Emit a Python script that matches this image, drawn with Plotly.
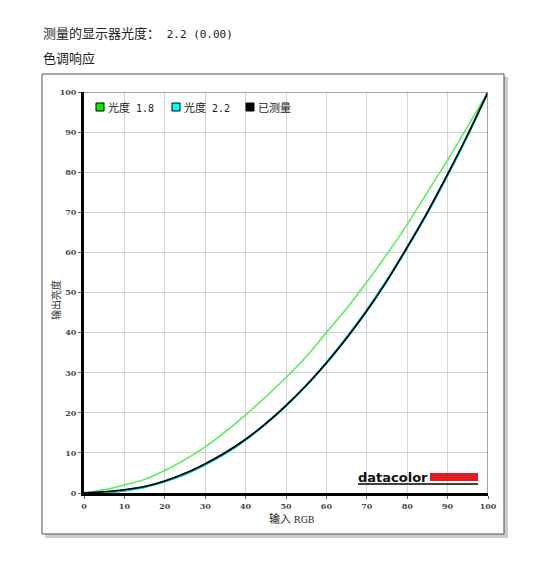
import plotly.graph_objects as go

x_rgb = [0, 5, 10, 15, 20, 25, 30, 35, 40, 45, 50, 55, 60, 65, 70, 75, 80, 85, 90, 95, 100]
gamma18 = [0, 0.8, 2.0, 3.4, 5.6, 8.3, 11.5, 15.3, 19.5, 24.0, 28.8, 34.0, 40.0, 46.0, 52.6, 59.6, 67.0, 75.0, 83.0, 91.5, 100]
gamma22 = [0, 0.14, 0.63, 1.5, 2.9, 4.7, 7.1, 9.9, 13.3, 17.3, 21.8, 26.8, 32.5, 38.8, 45.6, 53.1, 61.2, 69.9, 79.3, 89.3, 100]
measured = [0, 0.3, 0.8, 1.6, 3.0, 4.9, 7.3, 10.1, 13.4, 17.3, 21.8, 26.8, 32.4, 38.6, 45.4, 52.9, 61.3, 70.0, 79.5, 89.4, 100]
series_names = ["光度", "光度", "已测量"]
series_suffix = [" 1.8", " 2.2", ""]
tick_vals = list(range(0, 101, 10))
tick_text = [str(v) for v in tick_vals]

OFF = 8  # default page body margin
W, H = 548 - OFF, 567 - OFF
L, R, T, B = 84 - OFF, 488 - OFF, 92 - OFF, 493 - OFF

fig = go.Figure()
fig.add_trace(go.Scatter(x=x_rgb, y=gamma18, mode="lines", line=dict(color="#55ee55", width=1.5, shape="spline", smoothing=0.8), showlegend=False))
fig.add_trace(go.Scatter(x=x_rgb, y=gamma22, mode="lines", line=dict(color="#00c0c0", width=2.4, shape="spline", smoothing=0.8), showlegend=False))
fig.add_trace(go.Scatter(x=x_rgb, y=measured, mode="lines", line=dict(color="#000000", width=1.6, shape="spline", smoothing=0.8), showlegend=False))


def px(X):
    return (X - OFF - L) / (R - L)


def py(Y):
    return (B - (Y - OFF)) / (B - T)


shapes = [
    dict(type="rect", xref="paper", yref="paper", x0=px(45), x1=px(508), y0=py(538), y1=py(77),
         line=dict(width=0), fillcolor="rgba(110,110,110,0.35)", layer="below"),
    dict(type="rect", xref="paper", yref="paper", x0=px(42), x1=px(504), y0=py(534), y1=py(74),
         line=dict(color="#505050", width=1), fillcolor="white", layer="below"),
    dict(type="rect", xref="paper", yref="paper", x0=px(430), x1=px(478), y0=py(481), y1=py(473),
         line=dict(width=0), fillcolor="#e31b23"),
    dict(type="line", xref="paper", yref="paper", x0=px(358), x1=px(478), y0=py(484), y1=py(484),
         line=dict(color="#000000", width=1.5)),
    dict(type="line", xref="x", yref="y", x0=0, x1=100, y0=100, y1=100,
         line=dict(color="#888888", width=1.5)),
    dict(type="line", xref="x", yref="y", x0=100, x1=100, y0=0, y1=100,
         line=dict(color="#888888", width=1.5)),
]

legend_colors = ["#00ee00", "#00ffff", "#000000"]
legend_x = [100, 176, 250]
for xc, col in zip(legend_x, legend_colors):
    shapes.append(dict(type="rect", xref="paper", yref="paper", x0=px(xc - 4), x1=px(xc + 4),
                       y0=py(111), y1=py(103), line=dict(color="#000000", width=1), fillcolor=col))

CJK = "Noto Sans CJK SC"
MONO = "DejaVu Sans Mono"
annotations = [
    dict(text="测量的显示器光度：<span style='font-family:%s;font-size:11px'> 2.2 (0.00)</span>" % MONO,
         xref="paper", yref="paper", x=px(41), y=py(33),
         xanchor="left", yanchor="middle", showarrow=False,
         font=dict(family=CJK, size=13, color="#222222")),
    dict(text="色调响应", xref="paper", yref="paper", x=px(41), y=py(57),
         xanchor="left", yanchor="middle", showarrow=False,
         font=dict(family=CJK, size=13, color="#222222")),
    dict(text="<b>datacolor</b>", xref="paper", yref="paper", x=px(356), y=py(477),
         xanchor="left", yanchor="middle", showarrow=False,
         font=dict(family="DejaVu Sans", size=13, color="#111111")),
    dict(text="输入<span style='font-family:DejaVu Serif;font-size:9px'> RGB</span>",
         xref="paper", yref="paper", x=px(292), y=py(518),
         xanchor="center", yanchor="middle", showarrow=False,
         font=dict(family=CJK, size=11, color="#222222")),
    dict(text="输出亮度", xref="paper", yref="paper", x=px(55), y=py(300), textangle=-90,
         xanchor="center", yanchor="middle", showarrow=False,
         font=dict(family=CJK, size=10, color="#333333")),
]
for xc, nm, sfx in zip(legend_x, series_names, series_suffix):
    txt = nm + ("<span style='font-family:%s;font-size:10px'>%s</span>" % (MONO, sfx) if sfx else "")
    annotations.append(dict(text=txt, xref="paper", yref="paper", x=px(xc + 6), y=py(107),
                            xanchor="left", yanchor="middle", showarrow=False,
                            font=dict(family=CJK, size=11, color="#222222")))

axis_common = dict(range=[0, 100], tickvals=tick_vals, ticktext=tick_text, showgrid=True,
                   gridcolor="#d4d4d4", gridwidth=1, zeroline=False,
                   showline=True, linecolor="#000000", linewidth=3, mirror=False,
                   ticks="outside", ticklen=3, tickcolor="#666666",
                   tickfont=dict(family="DejaVu Serif", size=8, color="#4a4458", weight="bold"))

fig.update_layout(
    width=W, height=H,
    margin=dict(l=L, r=W - R, t=T, b=H - B, pad=0),
    paper_bgcolor="white", plot_bgcolor="white",
    shapes=shapes, annotations=annotations,
    showlegend=False,
    xaxis=axis_common,
    yaxis=axis_common,
)

fig.write_html("out.html")
